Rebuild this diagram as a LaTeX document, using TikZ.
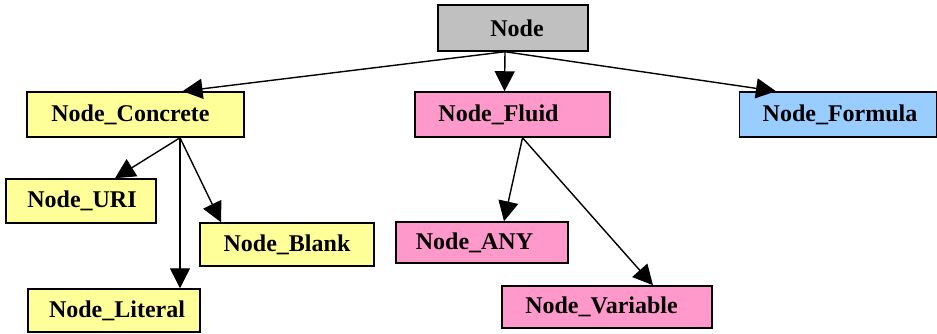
\documentclass[tikz,border=0pt]{standalone}
\usepackage{fontspec}
\setmainfont{Liberation Serif}
\usetikzlibrary{arrows.meta,calc}
\definecolor{boxgray}{RGB}{192,192,192}
\definecolor{boxyellow}{RGB}{255,255,153}
\definecolor{boxpink}{RGB}{255,153,204}
\definecolor{boxblue}{RGB}{153,204,255}
% class name, moved sideways by half of #1 and set a little low
\newcommand{\cname}[2]{\hspace*{#1}\raisebox{-3pt}{#2}}
\tikzset{
  x=1pt,y=1pt,
  cls/.style={draw=black,line width=1.5pt,rectangle,inner sep=0pt,
    font=\fontsize{24}{26}\selectfont\bfseries},
  link/.style={line width=1.4pt,-{Triangle[length=20pt,width=20pt]}}
}
\begin{document}
\begin{tikzpicture}
\useasboundingbox (0,0) rectangle (937,333);
\clip (0,0) rectangle (937,333);
% class boxes
\node[cls,fill=boxgray,minimum width=150,minimum height=46] (root) at (513,305) {\cname{8pt}{Node}};
\node[cls,fill=boxyellow,minimum width=217,minimum height=45] (conc) at (135.5,218.5) {\cname{-10pt}{Node\_Concrete}};
\node[cls,fill=boxpink,minimum width=195,minimum height=45] (fluid) at (512.5,218.5) {\cname{-28pt}{Node\_Fluid}};
\node[cls,fill=boxblue,minimum width=197,minimum height=45] (form) at (838,218.5) {\cname{4pt}{Node\_Formula}};
\node[cls,fill=boxyellow,minimum width=150,minimum height=44] (uri) at (81,132) {\cname{2pt}{Node\_URI}};
\node[cls,fill=boxyellow,minimum width=174,minimum height=43] (blank) at (287,88.5) {\cname{0pt}{Node\_Blank}};
\node[cls,fill=boxyellow,minimum width=172,minimum height=43] (lit) at (114,22.5) {\cname{6pt}{Node\_Literal}};
\node[cls,fill=boxpink,minimum width=172,minimum height=41] (any) at (482,90.5) {\cname{-15pt}{Node\_ANY}};
\node[cls,fill=boxpink,minimum width=210,minimum height=42] (var) at (607,26) {\cname{-11pt}{Node\_Variable}};
% inheritance arrows
\draw[link] ([xshift=-8]root.south) -- ([xshift=47]conc.north);
\draw[link] ([xshift=-8]root.south) -- ([xshift=-8]fluid.north);
\draw[link] ([xshift=-8]root.south) -- ([xshift=-62]form.north);
\draw[link] ([xshift=44.5]conc.south) -- ([xshift=34]uri.north);
\draw[link] ([xshift=44.5]conc.south) -- ([xshift=66]lit.north);
\draw[link] ([xshift=44.5]conc.south) -- ([xshift=-66]blank.north);
\draw[link] ([xshift=10]fluid.south) -- ([xshift=22]any.north);
\draw[link] ([xshift=10]fluid.south) -- ([xshift=46]var.north);
\end{tikzpicture}
\end{document}
